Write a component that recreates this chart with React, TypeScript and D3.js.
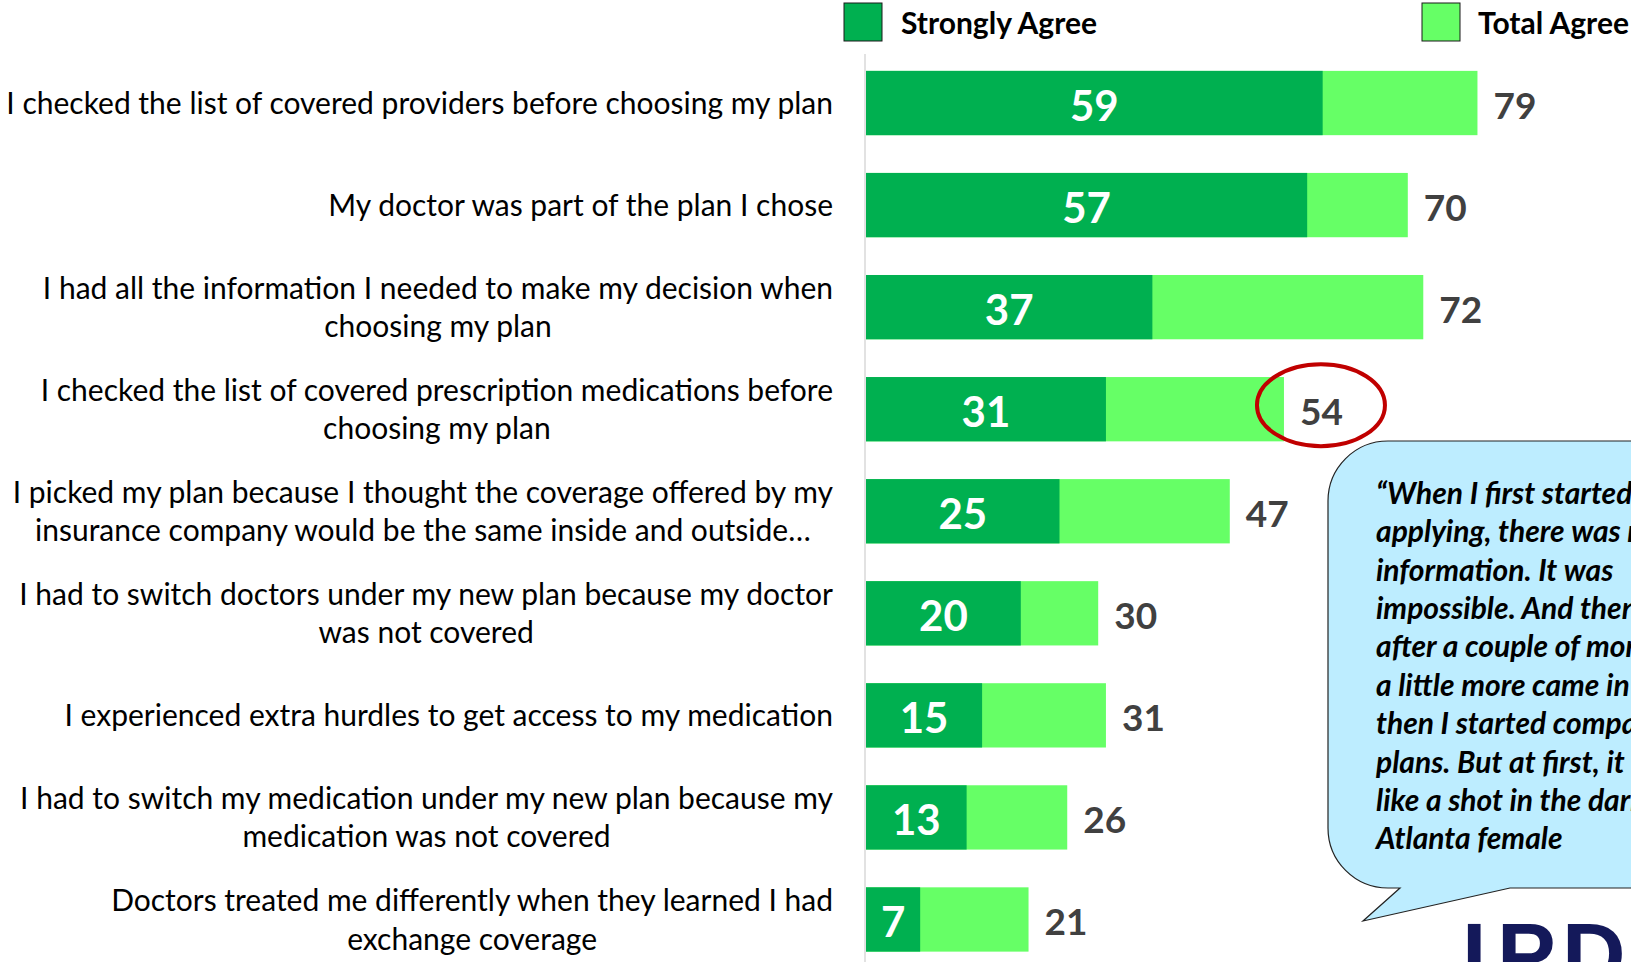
import React, { useEffect, useRef } from "react";
import * as d3 from "d3";

const categories: string[][] = [
  ["I checked the list of covered providers before choosing my plan"],
  ["My doctor was part of the plan I chose"],
  ["I had all the information I needed to make my decision when", "choosing my plan"],
  ["I checked the list of covered prescription medications before", "choosing my plan"],
  ["I picked my plan because I thought the coverage offered by my", "insurance company would be the same inside and outside\u2026"],
  ["I had to switch doctors under my new plan because my doctor", "was not covered"],
  ["I experienced extra hurdles to get access to my medication"],
  ["I had to switch my medication under my new plan because my", "medication was not covered"],
  ["Doctors treated me differently when they learned I had", "exchange coverage"],
];
const stronglyAgree = [59, 57, 37, 31, 25, 20, 15, 13, 7];
const totalAgree = [79, 70, 72, 54, 47, 30, 31, 26, 21];
const seriesNames = ["Strongly Agree", "Total Agree"];
const highlightIndex = 3;
const quoteLines = [
  "\u201CWhen I first started",
  "applying, there was no",
  "information. It was",
  "impossible. And then",
  "after a couple of months",
  "a little more came in and",
  "then I started comparing",
  "plans. But at first, it was",
  "like a shot in the dark.\u201D",
  "Atlanta female",
];

const W = 1631;
const H = 962;
const DARK = "#00B050";
const LIGHT = "#66FF66";
const FONT = "Lato, 'Open Sans', sans-serif";

export default function App() {
  const ref = useRef<SVGSVGElement>(null);

  useEffect(() => {
    const svg = d3.select(ref.current);
    svg.selectAll("*").remove();

    const x = d3.scaleLinear().domain([0, 100]).range([866, 866 + 774]);
    const keys = categories.map((_, i) => String(i));
    const y = d3.scaleBand().domain(keys).range([52, 970.5]).paddingInner(0.37).paddingOuter(0.185);

    // axis line
    svg.append("line")
      .attr("x1", x(0) - 1).attr("x2", x(0) - 1)
      .attr("y1", 54).attr("y2", H)
      .attr("stroke", "#D9D9D9").attr("stroke-width", 1.5);

    const g = svg.append("g");
    const rows = g.selectAll("g.row").data(categories).join("g").attr("class", "row");

    rows.append("rect")
      .attr("x", x(0))
      .attr("y", (_, i) => y(String(i))!)
      .attr("width", (_, i) => x(totalAgree[i]) - x(0))
      .attr("height", y.bandwidth())
      .attr("fill", LIGHT);
    rows.append("rect")
      .attr("x", x(0))
      .attr("y", (_, i) => y(String(i))!)
      .attr("width", (_, i) => x(stronglyAgree[i]) - x(0))
      .attr("height", y.bandwidth())
      .attr("fill", DARK);

    // inside labels
    rows.append("text")
      .attr("x", (_, i) => (x(0) + x(stronglyAgree[i])) / 2)
      .attr("y", (_, i) => y(String(i))! + y.bandwidth() / 2)
      .attr("dy", "0.42em")
      .attr("text-anchor", "middle")
      .attr("font-family", FONT)
      .attr("font-weight", 700)
      .attr("font-size", 42)
      .attr("fill", "#FFFFFF")
      .text((_, i) => String(stronglyAgree[i]));

    // total labels
    rows.append("text")
      .attr("x", (_, i) => x(totalAgree[i]) + 16)
      .attr("y", (_, i) => y(String(i))! + y.bandwidth() / 2)
      .attr("dy", "0.42em")
      .attr("font-family", FONT)
      .attr("font-weight", 700)
      .attr("font-size", 37)
      .attr("fill", "#404040")
      .text((_, i) => String(totalAgree[i]));

    // category labels
    const labelRight = 833;
    const lineGap = 38.5;
    const labelSize = 30;
    categories.forEach((lines, i) => {
      const cy = y(String(i))! + y.bandwidth() / 2;
      const first = svg.append("text")
        .attr("x", labelRight)
        .attr("y", cy - ((lines.length - 1) * lineGap) / 2)
        .attr("dy", "0.36em")
        .attr("text-anchor", "end")
        .attr("font-family", FONT)
        .attr("font-size", labelSize)
        .attr("fill", "#000")
        .text(lines[0]);
      const w = (first.node() as SVGTextElement).getComputedTextLength();
      const center = labelRight - w / 2;
      for (let k = 1; k < lines.length; k++) {
        svg.append("text")
          .attr("x", center)
          .attr("y", cy - ((lines.length - 1) * lineGap) / 2 + k * lineGap)
          .attr("dy", "0.36em")
          .attr("text-anchor", "middle")
          .attr("font-family", FONT)
          .attr("font-size", labelSize)
          .attr("fill", "#000")
          .text(lines[k]);
      }
    });

    // highlight ellipse
    {
      const i = highlightIndex;
      const cx = x(totalAgree[i]) + 16 + 21;
      const cy = y(String(i))! + y.bandwidth() / 2 - 4;
      svg.append("ellipse")
        .attr("cx", cx).attr("cy", cy)
        .attr("rx", 64).attr("ry", 41)
        .attr("fill", "none")
        .attr("stroke", "#C00000")
        .attr("stroke-width", 4);
    }

    // legend
    const legendItems = [
      { name: seriesNames[0], color: DARK, x: 844, tx: 901 },
      { name: seriesNames[1], color: LIGHT, x: 1422, tx: 1478 },
    ];
    legendItems.forEach((it) => {
      svg.append("rect")
        .attr("x", it.x).attr("y", 3).attr("width", 38).attr("height", 38)
        .attr("fill", it.color).attr("stroke", "#1a1a1a").attr("stroke-width", 1);
      svg.append("text")
        .attr("x", it.tx).attr("y", 23).attr("dy", "0.36em")
        .attr("font-family", FONT).attr("font-weight", 700).attr("font-size", 30)
        .attr("fill", "#000")
        .text(it.name);
    });

    // callout bubble
    const bx = 1328, by = 441, bb = 888, r = 60, right = 1720;
    const p = d3.path();
    p.moveTo(bx + r, by);
    p.lineTo(right, by);
    p.lineTo(right, bb);
    p.lineTo(1510, bb);
    p.lineTo(1363, 921);
    p.lineTo(1400, bb);
    p.lineTo(bx + r, bb);
    p.arcTo(bx, bb, bx, bb - r, r);
    p.lineTo(bx, by + r);
    p.arcTo(bx, by, bx + r, by, r);
    p.closePath();
    svg.append("path")
      .attr("d", p.toString())
      .attr("fill", "#BDEDFF")
      .attr("stroke", "#222")
      .attr("stroke-width", 1.2);

    svg.append("g").selectAll("text").data(quoteLines).join("text")
      .attr("x", 1376)
      .attr("y", (_, k) => 493 + k * 38.4)
      .attr("dy", "0.36em")
      .attr("font-family", FONT)
      .attr("font-style", "italic")
      .attr("font-weight", 700)
      .attr("font-size", 30)
      .attr("fill", "#000")
      .text((d) => d);

    // logo fragment
    const logo = svg.append("g").attr("fill", "#14195A")
      .attr("font-family", "'Liberation Sans', Arial, sans-serif")
      .attr("font-weight", 700).attr("font-size", 88);
    logo.append("text").attr("x", 1462).attr("y", 984).text("I");
    logo.append("text").attr("x", 1497).attr("y", 984).text("P");
    logo.append("text").attr("x", 1562).attr("y", 984).text("D");
  }, []);

  return (
    <svg
      ref={ref}
      width={W}
      height={H}
      viewBox={`0 0 ${W} ${H}`}
      style={{ position: "absolute", left: 0, top: 0, display: "block", background: "#fff", overflow: "hidden" }}
    />
  );
}
